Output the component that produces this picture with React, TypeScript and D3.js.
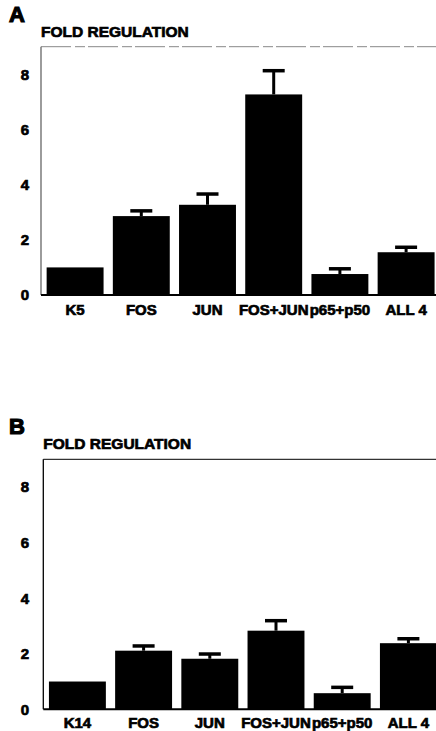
import React from "react";
import * as d3 from "d3";

const categoriesA = ["K5", "FOS", "JUN", "FOS+JUN", "p65+p50", "ALL 4"];
const categoriesB = ["K14", "FOS", "JUN", "FOS+JUN", "p65+p50", "ALL 4"];
const valuesA = [1.0, 2.86, 3.27, 7.27, 0.76, 1.55];
const errorsA = [0, 3.05, 3.66, 8.13, 0.95, 1.73];
const valuesB = [1.0, 2.11, 1.82, 2.83, 0.58, 2.38];
const errorsB = [0, 2.28, 1.99, 3.19, 0.79, 2.54];
const yTicks = [0, 2, 4, 6, 8];
const yLabel = "FOLD REGULATION";

const FONT = "'Liberation Sans', Arial, Helvetica, sans-serif";
const heavy = { stroke: "#000", strokeWidth: 0.7, paintOrder: "stroke" } as const;

type PanelProps = {
  letter: string;
  cats: string[];
  vals: number[];
  errs: number[];
  top: number;
  bottom: number;
  left: number;
  faint: boolean;
  labelOffset: number;
};

function Panel({ letter, cats, vals, errs, top, bottom, left, faint, labelOffset }: PanelProps) {
  const y = d3.scaleLinear().domain([0, 9]).range([bottom, top]);
  const x = d3
    .scaleBand<string>()
    .domain(cats)
    .range([left + 1, left + 1 + 6 * 66.2])
    .paddingInner(0.14)
    .paddingOuter(0.07);
  const axisColor = faint ? "#666" : "#000";
  return (
    <g>
      <text x={9} y={top - 25} fontFamily={FONT} fontWeight="bold" fontSize={22} fill="#000" {...heavy} strokeWidth={1.2}>
        {letter}
      </text>
      <text x={left} y={top - 10} fontFamily={FONT} fontWeight="bold" fontSize={15.5} fill="#000" {...heavy}>
        {yLabel}
      </text>
      <line
        x1={left}
        x2={436}
        y1={top}
        y2={top}
        stroke={faint ? "#888" : "#000"}
        strokeWidth={1}
        strokeDasharray={faint ? "30 4 10 3" : undefined}
      />
      <line x1={left} x2={left} y1={top} y2={bottom} stroke={axisColor} strokeWidth={1.3} />
      <line x1={left} x2={436} y1={bottom} y2={bottom} stroke="#000" strokeWidth={2} />
      {yTicks.map((t) => (
        <text
          key={t}
          x={25}
          y={y(t)}
          dy="0.36em"
          textAnchor="middle"
          fontFamily={FONT}
          fontWeight="bold"
          fontSize={15}
          fill="#000"
          {...heavy}
        >
          {t}
        </text>
      ))}
      {cats.map((c, i) => {
        const bx = x(c)!;
        const bw = x.bandwidth();
        const cx = bx + bw / 2;
        return (
          <g key={c}>
            <rect x={bx} y={y(vals[i])} width={bw} height={bottom - y(vals[i])} fill="#000" />
            {errs[i] > vals[i] && (
              <g>
                <line x1={cx} x2={cx} y1={y(vals[i])} y2={y(errs[i])} stroke="#000" strokeWidth={3} />
                <line x1={cx - 11} x2={cx + 11} y1={y(errs[i])} y2={y(errs[i])} stroke="#000" strokeWidth={3.5} />
              </g>
            )}
            <text
              x={cx}
              y={bottom + labelOffset}
              dy="0.36em"
              textAnchor="middle"
              fontFamily={FONT}
              fontWeight="bold"
              fontSize={15}
              fill="#000"
              {...heavy}
            >
              {c}
            </text>
          </g>
        );
      })}
    </g>
  );
}

export default function App() {
  return (
    <div style={{ position: "absolute", left: 0, top: 0 }}>
      <svg width={436} height={731} style={{ display: "block", background: "#fff" }}>
        <rect width={436} height={731} fill="#fff" />
        <Panel letter="A" cats={categoriesA} vals={valuesA} errs={errorsA} top={46.7} bottom={295} left={41} faint={true} labelOffset={15} />
        <Panel letter="B" cats={categoriesB} vals={valuesB} errs={errorsB} top={459.3} bottom={709.3} left={43.3} faint={false} labelOffset={13.5} />
      </svg>
    </div>
  );
}
